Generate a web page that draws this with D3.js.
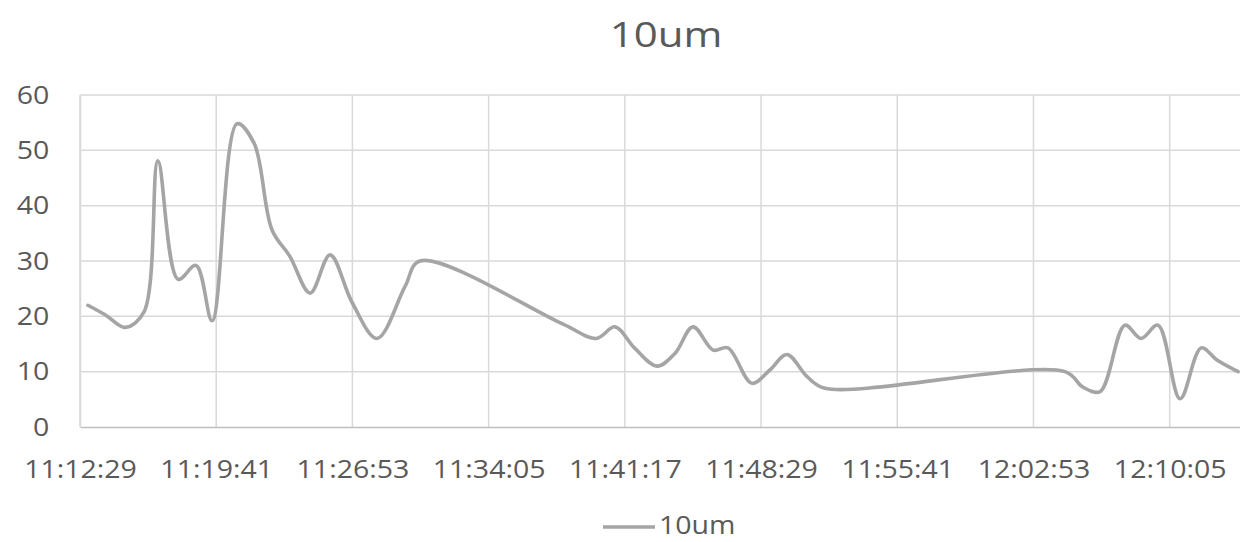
<!DOCTYPE html>
<html>
<head>
<meta charset="utf-8">
<script src="https://cdn.jsdelivr.net/npm/d3@7"></script>
<style>
  html, body { margin: 0; padding: 0; background: #fff; }
  svg { display: block; }
  text { font-family: "Open Sans", sans-serif; fill: #595959; }
</style>
</head>
<body>
<svg id="chart" width="1240" height="542"></svg>
<script>
// Particle counts, 10um channel
const seriesName = "10um";
const sampleTimes = [
  "11:12:54","11:13:51","11:14:52","11:15:52","11:16:36","11:17:40","11:18:37",
  "11:19:28","11:20:47","11:21:41","11:22:38","11:23:35","11:24:39","11:25:42",
  "11:26:52","11:28:11","11:29:40","11:30:27","11:38:01","11:39:46","11:40:46",
  "11:41:49","11:42:59","11:43:56","11:44:53","11:45:57","11:46:44","11:48:00",
  "11:48:57","11:49:51","11:50:55","11:51:52","12:04:33","12:05:30","12:06:24",
  "12:07:43","12:08:34","12:09:28","12:10:38","12:11:45","12:12:35","12:13:42"
];
const sampleValues = [
  22.0, 20.2, 18.0, 20.8, 48.1, 26.7, 29.2,
  19.2, 54.8, 51.3, 35.6, 30.8, 24.2, 31.1,
  22.5, 16.0, 25.4, 30.0, 18.6, 16.0, 18.1,
  14.2, 11.0, 13.3, 18.1, 13.9, 14.3, 7.9,
  10.3, 13.1, 9.1, 7.0, 10.0, 7.2, 6.4,
  18.4, 16.0, 18.4, 5.1, 14.3, 12.1, 10.0
];
const xTickLabels = [
  "11:12:29","11:19:41","11:26:53","11:34:05","11:41:17",
  "11:48:29","11:55:41","12:02:53","12:10:05"
];
const xDomainLabels = ["11:12:29", "12:13:48"];
const yTickValues = [0, 10, 20, 30, 40, 50, 60];

const parseTime = d3.timeParse("%H:%M:%S");
const fmtTime = d3.timeFormat("%H:%M:%S");

const data = sampleTimes.map((t, i) => ({ t: parseTime(t), v: sampleValues[i] }));

const svg = d3.select("#chart");
const plot = { left: 80, right: 1240, top: 95, bottom: 427 };
const stretch = 1.14; // horizontal widening of glyphs

const x = d3.scaleTime()
  .domain(xDomainLabels.map(parseTime))
  .range([plot.left, plot.right]);
const y = d3.scaleLinear()
  .domain([0, 60])
  .range([plot.bottom, plot.top]);

// horizontal gridlines
svg.append("g")
  .selectAll("line")
  .data(yTickValues.filter(v => v > 0))
  .join("line")
  .attr("x1", plot.left).attr("x2", plot.right)
  .attr("y1", d => y(d)).attr("y2", d => y(d))
  .attr("stroke", "#d9d9d9").attr("stroke-width", 1.5);

// vertical gridlines
svg.append("g")
  .selectAll("line")
  .data(xTickLabels.map(parseTime))
  .join("line")
  .attr("x1", d => x(d)).attr("x2", d => x(d))
  .attr("y1", plot.top).attr("y2", plot.bottom)
  .attr("stroke", "#d9d9d9").attr("stroke-width", 1.5);

// x axis
const xAxis = svg.append("g")
  .attr("transform", `translate(0,${plot.bottom})`)
  .call(d3.axisBottom(x)
    .tickValues(xTickLabels.map(parseTime))
    .tickFormat(fmtTime)
    .tickSize(0)
    .tickPadding(33));
xAxis.select(".domain").attr("stroke", "#bfbfbf").attr("stroke-width", 1.5);
xAxis.selectAll("text")
  .attr("font-size", 25)
  .style("font-family", "'Open Sans', sans-serif")
  .attr("fill", "#595959")
  .attr("transform", `scale(${stretch},1)`);

// y axis
const yAxis = svg.append("g")
  .attr("transform", `translate(${plot.left},0)`)
  .call(d3.axisLeft(y)
    .tickValues(yTickValues)
    .tickSize(0)
    .tickPadding(27));
yAxis.select(".domain").attr("stroke", "#d9d9d9").attr("stroke-width", 1.5);
yAxis.selectAll("text")
  .attr("font-size", 25)
  .style("font-family", "'Open Sans', sans-serif")
  .attr("fill", "#595959")
  .attr("transform", `scale(${stretch},1)`);

// series line
const line = d3.line()
  .x(d => x(d.t))
  .y(d => y(d.v))
  .curve(d3.curveCatmullRom.alpha(0.5));

svg.append("path")
  .datum(data)
  .attr("d", line)
  .attr("fill", "none")
  .attr("stroke", "#a5a5a5")
  .attr("stroke-width", 3.6)
  .attr("stroke-linecap", "round")
  .attr("stroke-linejoin", "round");

// title
svg.append("text")
  .attr("transform", `translate(666,47) scale(1.2,1)`)
  .attr("text-anchor", "middle")
  .attr("font-size", 35)
  .text(seriesName);

// legend
const legend = svg.append("g");
legend.append("line")
  .attr("x1", 603).attr("x2", 655)
  .attr("y1", 527).attr("y2", 527)
  .attr("stroke", "#a5a5a5").attr("stroke-width", 3.6);
legend.append("text")
  .attr("transform", `translate(659,534) scale(${stretch},1)`)
  .attr("font-size", 25)
  .text(seriesName);
</script>
</body>
</html>
